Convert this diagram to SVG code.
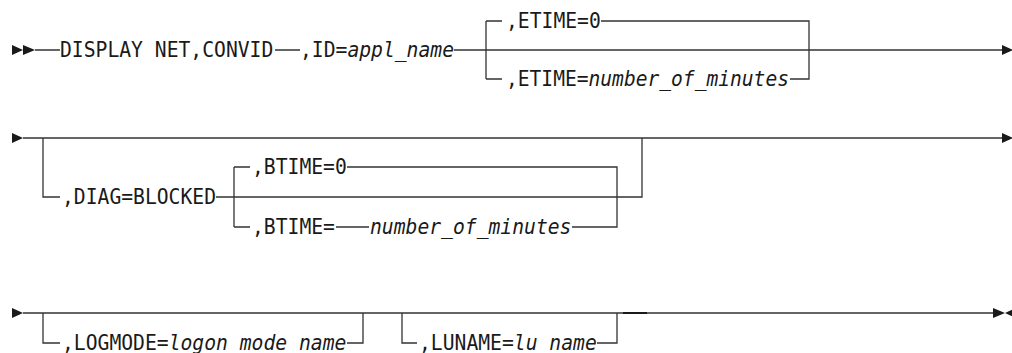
<svg xmlns="http://www.w3.org/2000/svg" width="1012" height="353" viewBox="0 0 1012 353">
<style>
text{font-family:"DejaVu Sans Mono","Liberation Mono",monospace;font-size:22px;fill:#1a1a1a;}
.i{font-style:italic;}
.c{fill:none;stroke:#333;stroke-width:1.3;}
.a{fill:#1a1a1a;stroke:none;}
</style>
<rect width="1012" height="353" fill="#fff"/>
<g id="connectors">
  <path class="c" d="M35 50H60M275 50H300M454 50H1004"/>
  <path class="c" d="M486 21V79M486 21H502M486 79H502M601 21H809V79H790"/>
  <path class="c" d="M23 138H1004M43 138V197H60M216 197H642V138"/>
  <path class="c" d="M234 167V227M234 167H250M234 227H250M347 167H617V227H572M336 227H369"/>
  <path class="c" d="M23 313H994M43 313V343H60M347 343H363V313M402 313V343H417M597 343H617V313"/>
  <path d="M623 313H647" fill="none" stroke="#1a1a1a" stroke-width="2"/>
  <path class="a" d="M12 45L23 50L12 55ZM23 45L35 50L23 55Z"/>
  <path class="a" d="M1002 45L1013 50L1002 55Z"/>
  <path class="a" d="M12 133L23 138L12 143Z"/>
  <path class="a" d="M1002 133L1013 138L1002 143Z"/>
  <path class="a" d="M12 308L23 313L12 318Z"/>
  <path class="a" d="M993 308L1005 313L993 318ZM1016 308L1005 313L1016 318Z"/>
</g>
<g id="n-display"><text x="60" y="57" textLength="213.3" lengthAdjust="spacingAndGlyphs">DISPLAY NET,CONVID</text></g>
<g id="n-id"><text x="300" y="57" textLength="154" lengthAdjust="spacingAndGlyphs">,ID=<tspan class="i">appl_name</tspan></text></g>
<g id="n-etime0"><text x="506" y="28" textLength="94.8" lengthAdjust="spacingAndGlyphs">,ETIME=0</text></g>
<g id="n-etimen"><text x="506" y="86" textLength="283" lengthAdjust="spacingAndGlyphs">,ETIME=<tspan class="i">number_of_minutes</tspan></text></g>
<g id="n-diag"><text x="62" y="204" textLength="154" lengthAdjust="spacingAndGlyphs">,DIAG=BLOCKED</text></g>
<g id="n-btime0"><text x="252" y="174" textLength="94.8" lengthAdjust="spacingAndGlyphs">,BTIME=0</text></g>
<g id="n-btimen"><text x="252" y="234" textLength="82.95" lengthAdjust="spacingAndGlyphs">,BTIME=</text><text class="i" x="370" y="234" textLength="201.45" lengthAdjust="spacingAndGlyphs">number_of_minutes</text></g>
<g id="n-logmode"><text x="62" y="350" textLength="284.4" lengthAdjust="spacingAndGlyphs">,LOGMODE=<tspan class="i">logon mode name</tspan></text></g>
<g id="n-luname"><text x="419" y="350" textLength="177.75" lengthAdjust="spacingAndGlyphs">,LUNAME=<tspan class="i">lu name</tspan></text></g>
</svg>
